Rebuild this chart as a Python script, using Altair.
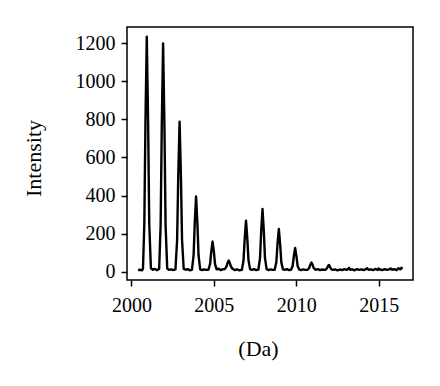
import altair as alt
import pandas as pd

# m/z (Da) sample points and intensities
mz = [
    2000.40, 2000.52, 2000.64,
    2000.70, 2000.78, 2000.85, 2000.93, 2001.01, 2001.08, 2001.18, 2001.30, 2001.42, 2001.54,
    2001.68, 2001.77, 2001.84, 2001.92, 2002.00, 2002.07, 2002.17, 2002.29, 2002.41, 2002.53,
    2002.67, 2002.77, 2002.84, 2002.92, 2003.00, 2003.07, 2003.17, 2003.29, 2003.41, 2003.53,
    2003.67, 2003.77, 2003.84, 2003.92, 2004.00, 2004.07, 2004.17, 2004.29, 2004.41, 2004.53,
    2004.67, 2004.77, 2004.84, 2004.92, 2005.00, 2005.07, 2005.17, 2005.29, 2005.41, 2005.53,
    2005.67, 2005.77, 2005.84, 2005.90, 2005.96, 2006.03, 2006.13, 2006.27, 2006.41, 2006.55,
    2006.70, 2006.80, 2006.87, 2006.95, 2007.03, 2007.10, 2007.20, 2007.32, 2007.44, 2007.56,
    2007.70, 2007.80, 2007.87, 2007.95, 2008.03, 2008.10, 2008.20, 2008.32, 2008.44, 2008.56,
    2008.69, 2008.79, 2008.86, 2008.94, 2009.02, 2009.09, 2009.19, 2009.31, 2009.43, 2009.55,
    2009.68, 2009.78, 2009.85, 2009.93, 2010.01, 2010.08, 2010.18, 2010.30, 2010.42, 2010.54,
    2010.68, 2010.78, 2010.85, 2010.92, 2010.99, 2011.06, 2011.16, 2011.30, 2011.44, 2011.58,
    2011.75, 2011.85, 2011.92, 2011.98, 2012.04, 2012.11, 2012.22, 2012.36, 2012.50, 2012.64,
    2012.78, 2012.92, 2013.06, 2013.14, 2013.20, 2013.27, 2013.40, 2013.54, 2013.68, 2013.82,
    2013.96, 2014.10, 2014.22, 2014.30, 2014.38, 2014.52, 2014.66, 2014.80, 2014.94, 2015.00,
    2015.08, 2015.22, 2015.36, 2015.50, 2015.64, 2015.72, 2015.80, 2015.94, 2016.08, 2016.20,
    2016.30, 2016.38, 2016.45,
]
intensity = [
    8, 10, 7,
    15, 250, 790, 1235, 790, 250, 18, 10, 14, 8,
    14, 245, 770, 1200, 770, 245, 16, 9, 12, 8,
    12, 165, 505, 788, 505, 165, 14, 10, 13, 7,
    10, 85, 255, 395, 255, 85, 12, 8, 12, 9,
    10, 40, 105, 158, 105, 40, 12, 15, 8, 12,
    14, 28, 48, 58, 48, 28, 15, 8, 12, 7,
    10, 60, 172, 268, 172, 60, 12, 9, 13, 8,
    11, 72, 212, 330, 212, 72, 13, 8, 12, 9,
    10, 50, 145, 225, 145, 50, 12, 9, 13, 8,
    10, 30, 80, 124, 80, 30, 11, 8, 12, 9,
    10, 18, 36, 48, 36, 18, 10, 13, 8, 11,
    9, 16, 28, 35, 26, 14, 9, 12, 7, 11,
    8, 13, 9, 14, 20, 10, 12, 7, 13, 9,
    12, 8, 13, 18, 10, 12, 8, 14, 9, 16,
    11, 8, 13, 9, 12, 17, 10, 13, 8, 18,
    12, 20, 14,
]

df = pd.DataFrame({"mz": mz, "intensity": intensity})

FONT = "Liberation Serif"

chart = (
    alt.Chart(df)
    .mark_line(color="black", strokeWidth=2.4, strokeJoin="round")
    .encode(
        x=alt.X(
            "mz:Q",
            scale=alt.Scale(domain=[1999.73, 2017.08], nice=False, zero=False),
            axis=alt.Axis(
                values=[2000, 2005, 2010, 2015],
                title="(Da)",
                titleX=131,
                titleY=68,
                titleAlign="center",
                titleBaseline="middle",
                labelPadding=9,
                format="d",
            ),
        ),
        y=alt.Y(
            "intensity:Q",
            scale=alt.Scale(domain=[-44, 1286], nice=False, zero=False),
            axis=alt.Axis(
                values=[0, 200, 400, 600, 800, 1000, 1200],
                title="Intensity",
                titleX=-94,
                titleY=131,
                titleAngle=-90,
                titleAlign="center",
                titleBaseline="middle",
                labelPadding=6,
                format="d",
            ),
        ),
    )
    .properties(
        width=286,
        height=253,
        autosize=alt.AutoSizeParams(type="none"),
        padding={"left": 119, "top": 19, "right": 19, "bottom": 90},
    )
    .configure_view(stroke="black", strokeWidth=1.5)
    .configure_axis(
        grid=False,
        domain=False,
        tickColor="black",
        tickWidth=1.5,
        tickSize=6,
        labelFont=FONT,
        labelFontSize=20,
        labelColor="black",
        titleFont=FONT,
        titleFontSize=22,
        titleFontWeight="normal",
        titleColor="black",
    )
)

chart.save("out.html", embed_options={"renderer": "svg", "actions": False})
